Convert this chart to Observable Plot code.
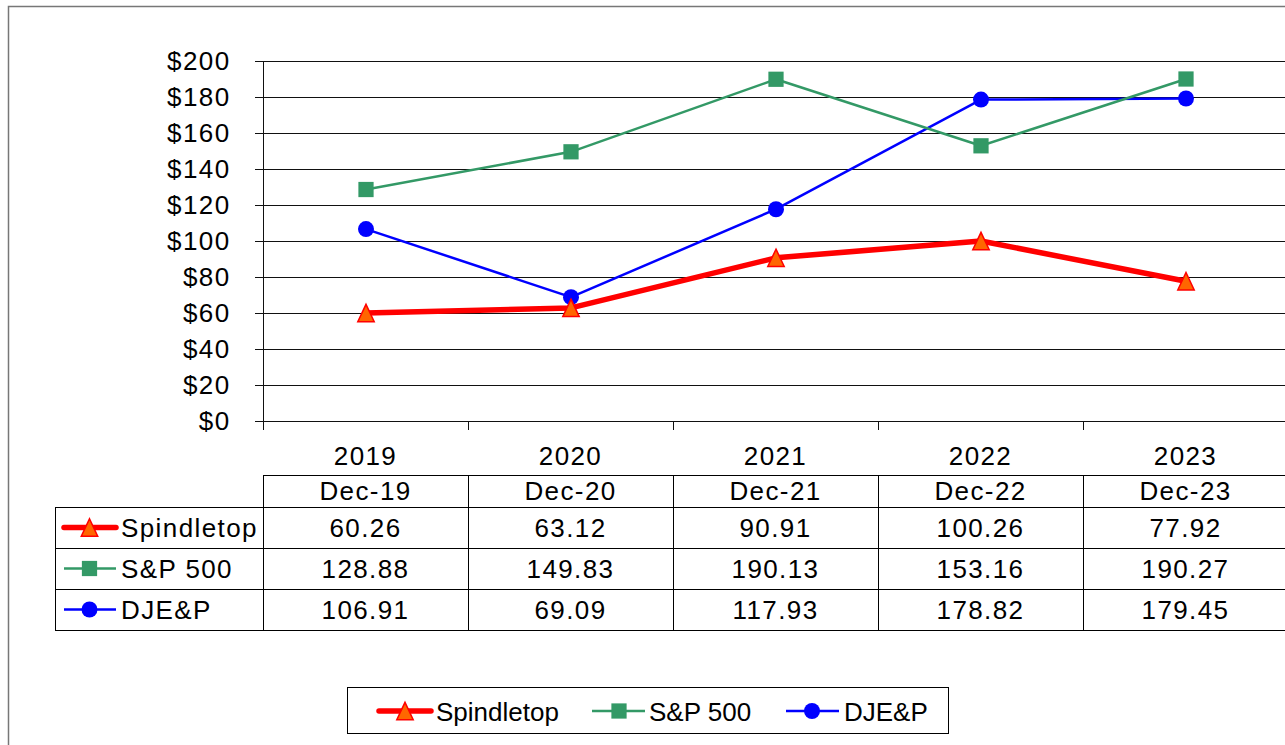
<!DOCTYPE html>
<html><head><meta charset="utf-8">
<script src="https://cdn.jsdelivr.net/npm/d3@7"></script>
<script src="https://cdn.jsdelivr.net/npm/@observablehq/plot@0.6"></script>
<style>html,body{margin:0;padding:0;background:#fff;overflow:hidden}</style>
</head><body><div id="chart"></div>
<script>
// ---- data ----
const years = [2019, 2020, 2021, 2022, 2023];
const dateLabels = ["Dec-19", "Dec-20", "Dec-21", "Dec-22", "Dec-23"];
const seriesNames = ["Spindletop", "S&P 500", "DJE&P"];
const spindletop = [60.26, 63.12, 90.91, 100.26, 77.92];
const sp500 = [128.88, 149.83, 190.13, 153.16, 190.27];
const djep = [106.91, 69.09, 117.93, 178.82, 179.45];
const yTicks = [0, 20, 40, 60, 80, 100, 120, 140, 160, 180, 200];

const FONT = "'Liberation Sans', Arial, sans-serif";

// tall isosceles triangle centred on its bounding box
const tallTriangle = {
  draw(context, size) {
    const r = Math.sqrt(size / Math.PI);
    const hw = r * 1.0, hh = r * 1.06;
    context.moveTo(0, -hh);
    context.lineTo(hw, hh);
    context.lineTo(-hw, hh);
    context.closePath();
  }
};

const styles = {
  "Spindletop": {values: spindletop, stroke: "#ff0000", width: 5.5, symbol: tallTriangle, r: 8.2, fill: "#ff6600", mstroke: "#ff0000", msw: 1.5},
  "S&P 500": {values: sp500, stroke: "#339966", width: 2.5, symbol: d3.symbolSquare, r: 8.6, fill: "#339966", mstroke: "none", msw: 0},
  "DJE&P": {values: djep, stroke: "#0000ff", width: 2.5, symbol: d3.symbolCircle, r: 8, fill: "#0000ff", mstroke: "none", msw: 0}
};

const drawOrder = ["DJE&P", "S&P 500", "Spindletop"];
const seriesMarks = drawOrder.flatMap(name => {
  const s = styles[name];
  const pts = years.map((yr, i) => ({year: yr, value: s.values[i]}));
  return [
    Plot.line(pts, {x: "year", y: "value", stroke: s.stroke, strokeWidth: s.width, strokeLinejoin: "round"}),
    Plot.dot(pts, {x: "year", y: "value", symbol: s.symbol, r: s.r, fill: s.fill, stroke: s.mstroke, strokeWidth: s.msw})
  ];
});

const plot = Plot.plot({
  width: 1285, height: 745,
  marginLeft: 263, marginRight: 0, marginTop: 61, marginBottom: 324,
  style: `font-family:${FONT};font-size:26px;letter-spacing:1.4px;color:#000;background:#fff;overflow:hidden`,
  x: {type: "linear", domain: [years[0] - 0.5, years[years.length - 1] + 0.5], range: [263, 1288], axis: null, label: null},
  y: {domain: [0, 200], range: [421, 61], label: null},
  marks: [
    Plot.gridY(yTicks, {stroke: "#111", strokeOpacity: 1, strokeWidth: 1}),
    Plot.axisY(yTicks, {tickSize: 8, tickPadding: 25, tickFormat: d => "$" + d, stroke: "#111", fontSize: 26, label: null}),
    ...seriesMarks
  ]
});
document.getElementById("chart").append(plot);

// ---- extra structure: axis line, x ticks, data table, legend, border ----
const xs = plot.scale("x").apply;
const ys = plot.scale("y").apply;
const svg = d3.select(plot);
const g = svg.append("g").attr("font-family", FONT).attr("font-size", 26).attr("text-anchor", "start");

const x0 = Math.round(xs(years[0] - 0.5));
const bounds = years.map(y => Math.round(xs(y - 0.5)));
const yBase = Math.round(ys(0));
const yTop = Math.round(ys(200));

function hline(x1, x2, y, stroke = "#000", w = 1) {
  g.append("line").attr("x1", x1).attr("x2", x2).attr("y1", y + 0.5).attr("y2", y + 0.5).attr("stroke", stroke).attr("stroke-width", w);
}
function vline(x, y1, y2, stroke = "#000", w = 1) {
  g.append("line").attr("x1", x + 0.5).attr("x2", x + 0.5).attr("y1", y1).attr("y2", y2).attr("stroke", stroke).attr("stroke-width", w);
}
function text(str, x, y, anchor, ls = "1.4px") {
  g.append("text").attr("x", x).attr("y", y).attr("text-anchor", anchor).attr("letter-spacing", ls).attr("fill", "#000").text(str);
}

// y axis line + x tick marks at band boundaries
vline(x0, yTop, yBase + 9, "#111");
bounds.forEach(b => vline(b, yBase, yBase + 9, "#111"));

// year labels
years.forEach(yr => text(String(yr), xs(yr), 464.5, "middle"));

// table
const tTop = 475, rowLines = [507, 548, 589], tBot = 630, tLeft = 55;
hline(x0, 1285, tTop);
rowLines.forEach(y => hline(tLeft, 1285, y));
hline(tLeft, 1285, tBot);
vline(tLeft, rowLines[0], tBot + 0.5);
bounds.forEach(b => vline(b, tTop, tBot + 0.5));

dateLabels.forEach((d, i) => text(d, xs(years[i]), 499.5, "middle"));

function drawSymbol(name, cx, cy, x1, x2) {
  const s = styles[name];
  g.append("line").attr("x1", x1).attr("x2", x2).attr("y1", cy).attr("y2", cy)
    .attr("stroke", s.stroke).attr("stroke-width", s.width).attr("stroke-linecap", name === "Spindletop" ? "round" : "butt");
  g.append("path").attr("transform", `translate(${cx},${cy})`)
    .attr("d", d3.symbol(s.symbol, s.r * s.r * Math.PI)())
    .attr("fill", s.fill).attr("stroke", s.mstroke).attr("stroke-width", s.msw);
}

const rowCenters = [527.5, 568.5, 609.5];
const rowBaselines = [537, 578, 619];
seriesNames.forEach((name, r) => {
  drawSymbol(name, 89.5, rowCenters[r], 64, 116);
  text(name, 121, rowBaselines[r], "start");
  styles[name].values.forEach((v, i) => text(v.toFixed(2), xs(years[i]), rowBaselines[r], "middle"));
});

// legend
g.append("rect").attr("x", 347.5).attr("y", 687.5).attr("width", 601).attr("height", 46)
  .attr("fill", "#fff").attr("stroke", "#000").attr("stroke-width", 1);
const legendItems = [
  {name: "Spindletop", x1: 379, x2: 431, cx: 405, tx: 436},
  {name: "S&P 500", x1: 592, x2: 645, cx: 619, tx: 649},
  {name: "DJE&P", x1: 786, x2: 839, cx: 812, tx: 844}
];
legendItems.forEach(it => {
  drawSymbol(it.name, it.cx, 711, it.x1, it.x2);
  text(it.name, it.tx, 720.5, "start", "0px");
});

// outer border
g.append("rect").attr("x", 8.5).attr("y", 6.5).attr("width", 1300).attr("height", 800)
  .attr("fill", "none").attr("stroke", "#777").attr("stroke-width", 1.5);
</script>
</body></html>
